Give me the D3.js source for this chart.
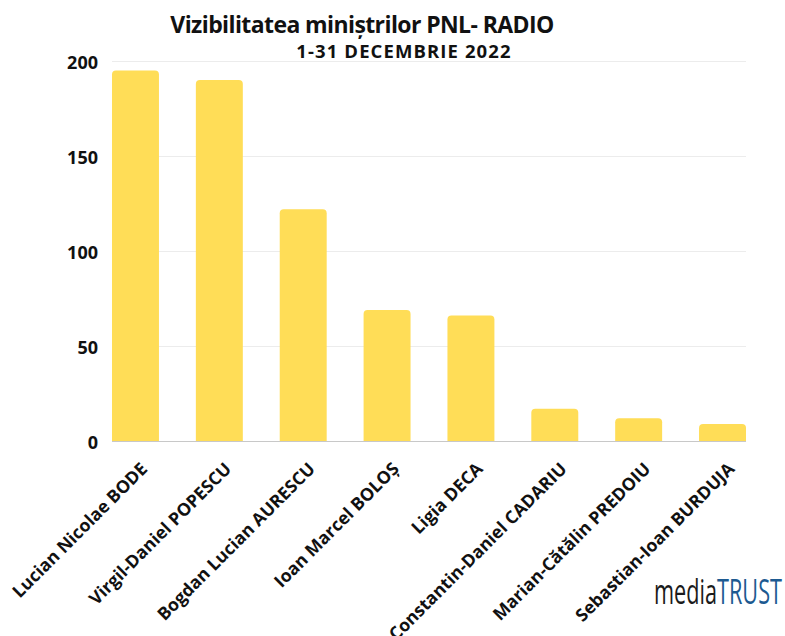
<!DOCTYPE html>
<html>
<head>
<meta charset="utf-8">
<script src="https://cdn.jsdelivr.net/npm/d3@7"></script>
<style>
  body { margin: 0; background: #fff; }
  text { font-family: "Open Sans", "Noto Sans", sans-serif; }
</style>
</head>
<body>
<div id="canvas"></div>
<script>
/* DATA */
const ministers = [
    "Lucian Nicolae BODE",
    "Virgil-Daniel POPESCU",
    "Bogdan Lucian AURESCU",
    "Ioan Marcel BOLOȘ",
    "Ligia DECA",
    "Constantin-Daniel CADARIU",
    "Marian-Cătălin PREDOIU",
    "Sebastian-Ioan BURDUJA"
];
const mentions = [195, 190, 122, 69, 66, 17, 12, 9];
const yTicks = [0, 50, 100, 150, 200];

/* CANVAS */
const width = 785;
const height = 636;

const svg = d3.select("#canvas")
    .append("svg")
    .attr("width", width)
    .attr("height", height);

const plot = { left: 112, right: 746, top: 61, bottom: 441 };

const x = d3.scaleBand()
    .domain(ministers)
    .range([plot.left, plot.right])
    .paddingInner(0.44)
    .paddingOuter(0);

const y = d3.scaleLinear()
    .domain([0, 200])
    .range([plot.bottom, plot.top]);

/* TITLE */
svg.append("text")
    .attr("x", 362)
    .attr("y", 33)
    .attr("text-anchor", "middle")
    .attr("font-size", 23)
    .attr("font-weight", 700)
    .attr("letter-spacing", -0.6)
    .attr("fill", "#111")
    .text("Vizibilitatea miniștrilor PNL- RADIO");

svg.append("text")
    .attr("x", 404)
    .attr("y", 58)
    .attr("text-anchor", "middle")
    .attr("font-size", 18.5)
    .attr("font-weight", 700)
    .attr("letter-spacing", 1.1)
    .attr("fill", "#111")
    .text("1-31 DECEMBRIE 2022");

/* GRIDLINES */
svg.append("g")
    .selectAll("line")
    .data(yTicks.filter(d => d > 0))
    .join("line")
    .attr("x1", plot.left)
    .attr("x2", plot.right)
    .attr("y1", d => y(d) + 0.5)
    .attr("y2", d => y(d) + 0.5)
    .attr("stroke", "#ececec")
    .attr("stroke-width", 1);

/* Y AXIS LABELS */
const yAxis = svg.append("g")
    .attr("transform", `translate(${plot.left - 14},0)`)
    .call(d3.axisLeft(y).tickValues(yTicks).tickSize(0).tickPadding(0));
yAxis.select(".domain").remove();
yAxis.selectAll("text")
    .attr("font-family", "'Open Sans', sans-serif")
    .attr("font-size", 18)
    .attr("font-weight", 700)
    .attr("fill", "#111")
    .attr("dy", "0.42em");

/* BARS (rounded top corners) */
const r = 4;
svg.append("g")
    .selectAll("path")
    .data(mentions)
    .join("path")
    .attr("fill", "#ffdd57")
    .attr("d", (d, i) => {
        const x0 = x(ministers[i]);
        const w = x.bandwidth();
        const y0 = y(d);
        const yb = y(0);
        return `M${x0},${yb}V${y0 + r}Q${x0},${y0} ${x0 + r},${y0}` +
            `H${x0 + w - r}Q${x0 + w},${y0} ${x0 + w},${y0 + r}V${yb}Z`;
    });

/* BASELINE */
svg.append("line")
    .attr("x1", plot.left)
    .attr("x2", plot.right)
    .attr("y1", y(0) + 0.5)
    .attr("y2", y(0) + 0.5)
    .attr("stroke", "#c8c8c8")
    .attr("stroke-width", 1.2);

/* X AXIS LABELS */
const xAxis = svg.append("g")
    .attr("transform", `translate(0,${plot.bottom})`)
    .call(d3.axisBottom(x).tickSize(0).tickPadding(0));
xAxis.select(".domain").remove();
xAxis.selectAll("text")
    .attr("font-family", "'Open Sans', sans-serif")
    .attr("font-size", 17.6)
    .attr("font-weight", 700)
    .attr("fill", "#111")
    .attr("text-anchor", "end")
    .attr("dy", null)
    .attr("y", 0)
    .attr("transform", "translate(13,29) rotate(-45)");

/* LOGO */
const logo = svg.append("text")
    .attr("x", 654)
    .attr("y", 604)
    .attr("font-family", "'DejaVu Sans Condensed', 'Liberation Sans Narrow', sans-serif")
    .attr("font-size", 35)
    .attr("textLength", 128)
    .attr("lengthAdjust", "spacingAndGlyphs");
logo.append("tspan").attr("fill", "#1b1b1b").text("media");
logo.append("tspan").attr("fill", "#1d5a91").text("TRUST");
</script>
</body>
</html>
